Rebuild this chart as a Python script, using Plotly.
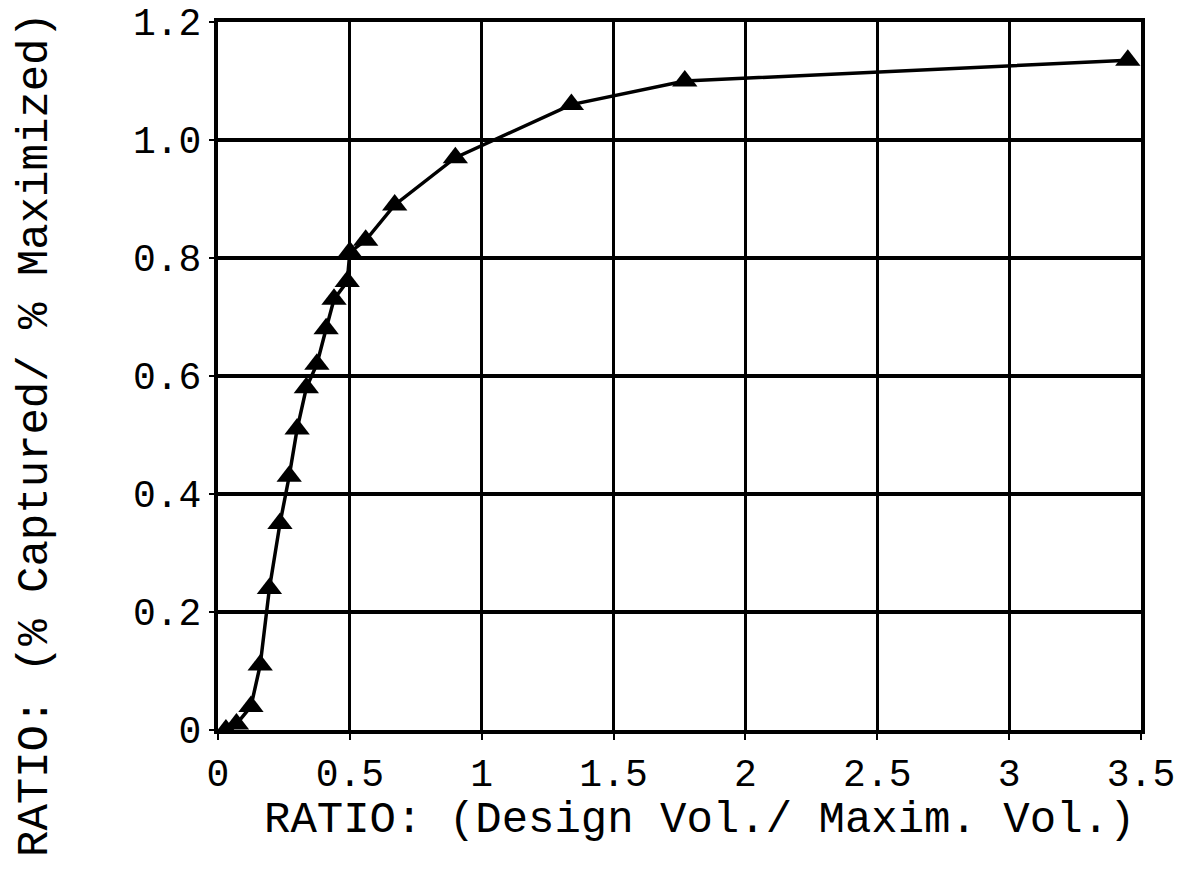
import plotly.graph_objects as go

# Data
design_ratio = [0.03, 0.07, 0.125, 0.16, 0.195, 0.235, 0.27, 0.30, 0.335, 0.375,
                0.41, 0.44, 0.49, 0.50, 0.56, 0.67, 0.90, 1.34, 1.77, 3.45]
capture_ratio = [0.0, 0.01, 0.04, 0.11, 0.24, 0.35, 0.43, 0.51, 0.58, 0.62,
                 0.68, 0.73, 0.76, 0.81, 0.83, 0.89, 0.97, 1.06, 1.10, 1.135]

x_ticks = [0, 0.5, 1, 1.5, 2, 2.5, 3, 3.5]
x_tick_text = ["0", "0.5", "1", "1.5", "2", "2.5", "3", "3.5"]
y_ticks = [0, 0.2, 0.4, 0.6, 0.8, 1.0, 1.2]
y_tick_text = ["0", "0.2", "0.4", "0.6", "0.8", "1.0", "1.2"]

x_title = "RATIO: (Design Vol./ Maxim. Vol.)"
y_title = "RATIO: (% Captured/ % Maximized)"

MONO = "Liberation Mono, DejaVu Sans Mono, monospace"

fig = go.Figure()
fig.add_trace(go.Scatter(
    x=design_ratio, y=capture_ratio,
    mode="lines+markers",
    line=dict(color="black", width=3.5),
    marker=dict(symbol="triangle-up", size=22, color="black"),
    showlegend=False,
))

fig.update_layout(
    width=1187, height=866,
    margin=dict(l=218, r=46, t=22, b=136),
    paper_bgcolor="white", plot_bgcolor="white",
    font=dict(family=MONO, color="black"),
    xaxis=dict(
        range=[0, 3.5], tickvals=x_ticks, ticktext=x_tick_text,
        showgrid=True, gridcolor="black", gridwidth=3,
        showline=True, linecolor="black", linewidth=4, mirror=True,
        ticks="outside", ticklen=6, tickwidth=2, tickcolor="black",
        tickfont=dict(family=MONO, size=38, color="black"),
        zeroline=False, automargin=False,
    ),
    yaxis=dict(
        range=[0, 1.2], tickvals=y_ticks, ticktext=y_tick_text,
        showgrid=True, gridcolor="black", gridwidth=4,
        showline=True, linecolor="black", linewidth=4, mirror=True,
        ticks="outside", ticklen=5, tickwidth=2, tickcolor="black",
        tickfont=dict(family=MONO, size=38, color="black"),
        zeroline=False, automargin=False,
    ),
    annotations=[
        dict(text=x_title, xref="paper", yref="paper", x=0.522, y=-0.127,
             xanchor="center", yanchor="middle", showarrow=False,
             font=dict(family=MONO, size=44, color="black")),
        dict(text=y_title, xref="paper", yref="paper", x=-0.198, y=0.417,
             xanchor="center", yanchor="middle", textangle=-90, showarrow=False,
             font=dict(family=MONO, size=44, color="black")),
    ],
)

fig.write_html("out.html",
               config={"displayModeBar": False},
               post_script="document.body.style.margin='0';document.body.style.overflow='hidden';")
